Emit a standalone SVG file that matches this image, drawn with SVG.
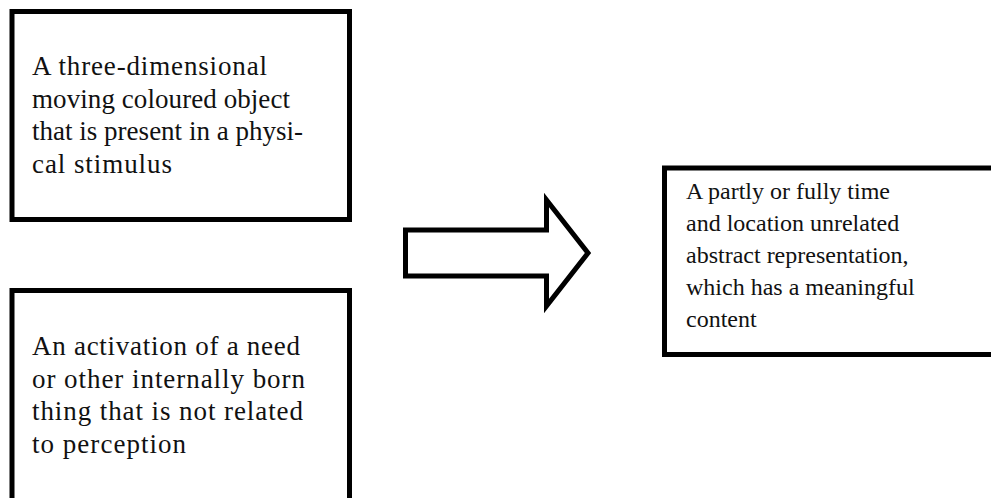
<svg xmlns="http://www.w3.org/2000/svg" width="991" height="498" viewBox="0 0 991 498">
  <style>
    .box { fill: #ffffff; stroke: #000000; stroke-width: 5; }
    .label { font-family: "Liberation Serif", "Times New Roman", serif; font-size: 27px; fill: #111111; }
    .label.small { font-size: 24px; }
  </style>
  <rect x="0" y="0" width="991" height="498" fill="#ffffff"/>

  <g id="node-object">
    <rect class="box" x="12" y="11.5" width="337.5" height="208"/>
    <text class="label">
      <tspan x="32" y="75" textLength="235" lengthAdjust="spacing">A three-dimensional</tspan>
      <tspan x="32" y="107.5" textLength="258" lengthAdjust="spacing">moving coloured object</tspan>
      <tspan x="32" y="140" textLength="271" lengthAdjust="spacing">that is present in a physi-</tspan>
      <tspan x="32" y="172.5" textLength="140" lengthAdjust="spacing">cal stimulus</tspan>
    </text>
  </g>

  <g id="node-need">
    <rect class="box" x="12" y="290.5" width="337.5" height="220"/>
    <text class="label">
      <tspan x="32" y="355" textLength="268" lengthAdjust="spacing">An activation of a need</tspan>
      <tspan x="32" y="387.5" textLength="273" lengthAdjust="spacing">or other internally born</tspan>
      <tspan x="32" y="420" textLength="271" lengthAdjust="spacing">thing that is not related</tspan>
      <tspan x="32" y="452.5" textLength="154" lengthAdjust="spacing">to perception</tspan>
    </text>
  </g>

  <g id="node-representation">
    <rect class="box" x="664.5" y="168" width="340" height="186.5"/>
    <text class="label small">
      <tspan x="686" y="199">A partly or fully time</tspan>
      <tspan x="686" y="231">and location unrelated</tspan>
      <tspan x="686" y="263">abstract representation,</tspan>
      <tspan x="686" y="295">which has a meaningful</tspan>
      <tspan x="686" y="327">content</tspan>
    </text>
  </g>

  <g id="connectors">
    <polygon class="box" points="405.5,230 546.5,230 546.5,200 588,253 546.5,306 546.5,276 405.5,276"/>
  </g>
</svg>
